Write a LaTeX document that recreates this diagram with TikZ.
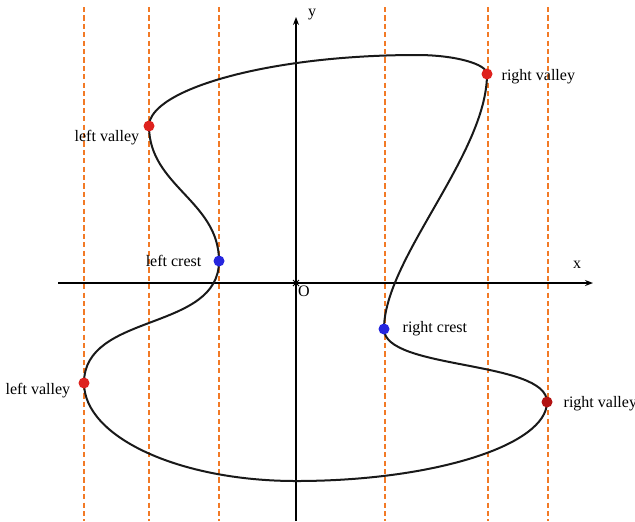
\documentclass[tikz,border=0pt]{standalone}
\usepackage{fontspec}
\setmainfont{Liberation Serif}
\usepackage{xcolor}
\usepackage{tikz}
\usetikzlibrary{arrows.meta,positioning}

\definecolor{guideorange}{RGB}{242,122,38}
\definecolor{valleyred}{RGB}{222,34,30}
\definecolor{valleydark}{RGB}{178,18,18}
\definecolor{crestblue}{RGB}{38,38,222}

\begin{document}
\begin{tikzpicture}[x=0.5pt,y=-0.5pt,
  guide/.style={guideorange,line width=0.6pt,dash pattern=on 2.6pt off 1.6pt},
  axis/.style={-{Stealth[length=4pt,width=3pt]},line width=0.6pt},
  curve/.style={line width=1pt,black!90},
  dot/.style={circle,inner sep=0pt,minimum size=5.5pt},
  lbl/.style={font=\fontsize{8}{9.6}\selectfont,inner sep=1pt}
]
\useasboundingbox (0,0) rectangle (635,521);

% vertical guides
\foreach \gx in {84,149,219,385,488,548}
  \draw[guide] (\gx,7) -- (\gx,521);

% axes
\coordinate (xs) at (58,283);
\coordinate (xe) at (593,283);
\coordinate (ys) at (296,521);
\coordinate (ye) at (296,17);
\draw[axis] (xs) -- (xe);
\draw[axis] (ys) -- (ye);
\draw[line width=0.5pt] (293,280) -- (299,286) (293,286) -- (299,280);
\node[lbl] (xlab) at (577,265) {x};
\node[lbl] (ylab) at (312,15) {y};
\node[lbl] (olab) at (304,291) {O};

% curve points
\coordinate (lvt) at (149,126);
\coordinate (top) at (417,55);
\coordinate (rvt) at (487,74);
\coordinate (rc)  at (384,329);
\coordinate (rvb) at (547,402);
\coordinate (bot) at (296,481);
\coordinate (lvb) at (84,383);
\coordinate (lc)  at (219,261);

\draw[curve] (lvt) .. controls +(0,-36) and +(-150,0) .. (top)
  .. controls +(38,0) and +(0,-10) .. (rvt)
  .. controls +(0,80) and +(0,-70) .. (rc)
  .. controls +(0,41) and +(0,-42) .. (rvb)
  .. controls +(0,43) and +(138,0) .. (bot)
  .. controls +(-117,0) and +(0,54) .. (lvb)
  .. controls +(0,-71) and +(0,71) .. (lc)
  .. controls +(0,-60) and +(0,60) .. (lvt);

% marked points
\node[dot,fill=valleyred] (lvtdot) at (lvt) {};
\node[dot,fill=crestblue] (lcdot)  at (lc)  {};
\node[dot,fill=valleyred] (lvbdot) at (lvb) {};
\node[dot,fill=valleyred] (rvtdot) at (rvt) {};
\node[dot,fill=crestblue] (rcdot)  at (rc)  {};
\node[dot,fill=valleydark] (rvbdot) at (rvb) {};

\node[lbl,left=0.8pt of lvtdot,yshift=-6pt] (lvtlab) {left valley};
\node[lbl,left=4.7pt of lcdot] (lclab) {left crest};
\node[lbl,left=2.8pt of lvbdot,yshift=-4pt] (lvblab) {left valley};
\node[lbl,right=3.2pt of rvtdot,yshift=-1.5pt] (rvtlab) {right valley};
\node[lbl,right=5.2pt of rcdot] (rclab) {right crest};
\node[lbl,right=4.2pt of rvbdot,yshift=-1pt] (rvblab) {right valley};
\end{tikzpicture}
\end{document}
